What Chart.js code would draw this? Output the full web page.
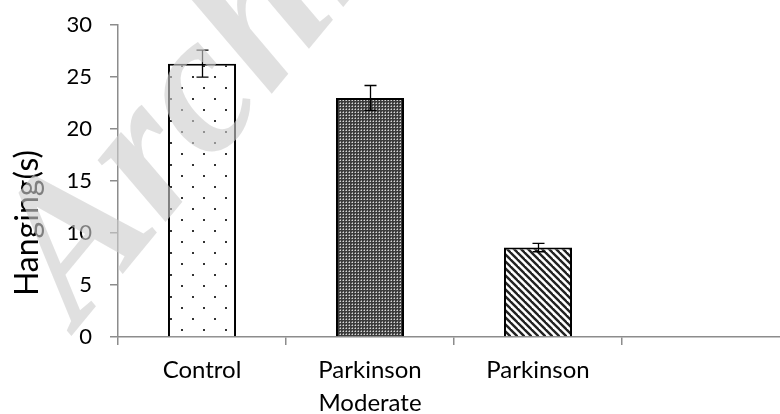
<!DOCTYPE html>
<html>
<head>
<meta charset="utf-8">
<script src="https://cdn.jsdelivr.net/npm/chart.js@4.4.0/dist/chart.umd.min.js"></script>
<style>
    html, body { margin: 0; padding: 0; background: #fff; overflow: hidden; }
    #wrap { width: 800px; height: 420px; margin-top: -6px; }
</style>
</head>
<body>
<div id="wrap"><canvas id="hangChart" width="800" height="420"></canvas></div>
<script>
// chart data
const categories = ['Control', ['Parkinson', 'Moderate'], 'Parkinson', ''];
const hangingValues = [26.3, 23.0, 8.6, null];
const hangingErrors = [1.3, 1.2, 0.4, null];
const yTicks = [0, 5, 10, 15, 20, 25, 30];
const yTitle = 'Hanging(s)';
const watermark = 'Archive';

const FONT = 'Lato, "Open Sans", sans-serif';

function makePattern(w, h, draw) {
    const c = document.createElement('canvas');
    c.width = w;
    c.height = h;
    const g = c.getContext('2d');
    draw(g, w, h);
    return c;
}

// dotted fill (Control)
const dotTile = makePattern(22, 22, (g, w, h) => {
    g.fillStyle = '#fff';
    g.fillRect(0, 0, w, h);
    g.fillStyle = '#333';
    g.fillRect(5, 5, 2, 2);
    g.fillRect(16, 16, 2, 2);
});

// fine dark checker (Parkinson Moderate)
const checkTile = makePattern(3, 3, (g, w, h) => {
    g.fillStyle = '#3c3c3c';
    g.fillRect(0, 0, w, h);
    g.fillStyle = '#d8d8d8';
    g.fillRect(1, 1, 1, 1);
    g.fillStyle = '#8a8a8a';
    g.fillRect(0, 1, 1, 1);
    g.fillRect(1, 0, 1, 1);
});

// diagonal stripes (Parkinson)
const stripeTile = makePattern(7, 7, (g, w, h) => {
    g.fillStyle = '#fff';
    g.fillRect(0, 0, w, h);
    g.strokeStyle = '#222';
    g.lineWidth = 2.4;
    for (let x = -7; x <= 7; x += 7) {
        g.beginPath();
        g.moveTo(x - 1, -1);
        g.lineTo(x + 8, 8);
        g.stroke();
    }
});

const ctx = document.getElementById('hangChart').getContext('2d');
const fills = [
    ctx.createPattern(dotTile, 'repeat'),
    ctx.createPattern(checkTile, 'repeat'),
    ctx.createPattern(stripeTile, 'repeat'),
    '#fff'
];

const errorBarPlugin = {
    id: 'errorBars',
    afterDatasetsDraw(chart) {
        const c = chart.ctx;
        const meta = chart.getDatasetMeta(0);
        const y = chart.scales.y;
        c.save();
        c.strokeStyle = '#000';
        c.lineWidth = 1.3;
        meta.data.forEach((bar, i) => {
            const v = hangingValues[i];
            const e = hangingErrors[i];
            if (v == null || e == null) return;
            const top = y.getPixelForValue(v + e);
            const bottom = y.getPixelForValue(v - e);
            const x = Math.round(bar.x) + 0.5;
            c.beginPath();
            c.moveTo(x, top);
            c.lineTo(x, bottom);
            c.moveTo(x - 6, top);
            c.lineTo(x + 6, top);
            c.moveTo(x - 6, bottom);
            c.lineTo(x + 6, bottom);
            c.stroke();
        });
        c.restore();
    }
};

const yTitlePlugin = {
    id: 'yTitle',
    afterDraw(chart) {
        const c = chart.ctx;
        c.save();
        c.translate(38, 229);
        c.rotate(-Math.PI / 2);
        c.font = '32px ' + FONT;
        c.fillStyle = '#000';
        c.textAlign = 'center';
        c.textBaseline = 'alphabetic';
        c.fillText(yTitle, 0, 0);
        c.restore();
    }
};

// semi-transparent stamp laid over the whole figure
const watermarkPlugin = {
    id: 'watermark',
    afterDraw(chart) {
        const c = chart.ctx;
        c.save();
        c.translate(78, 334);
        c.rotate(-0.88);
        c.font = 'italic bold 200px "Liberation Serif", "DejaVu Serif", serif';
        c.fillStyle = 'rgba(205, 205, 205, 0.62)';
        c.fillText(watermark, 0, 0);
        c.restore();
    }
};

new Chart(ctx, {
    type: 'bar',
    data: {
        labels: categories,
        datasets: [{
            data: hangingValues,
            backgroundColor: fills,
            borderColor: '#000',
            borderWidth: 2,
            borderSkipped: 'bottom',
            barPercentage: 0.405,
            categoryPercentage: 1.0
        }]
    },
    options: {
        responsive: false,
        animation: false,
        devicePixelRatio: 1,
        layout: { padding: { top: 19, right: 10, bottom: 0, left: 0 } },
        plugins: {
            legend: { display: false },
            tooltip: { enabled: false }
        },
        scales: {
            y: {
                min: 0,
                max: 30,
                afterFit: (s) => { s.width = 118; },
                afterBuildTicks: (s) => { s.ticks = yTicks.map(v => ({ value: v })); },
                border: { color: '#8c8c8c', width: 1.5 },
                grid: { drawOnChartArea: false, drawTicks: true, tickLength: 8, color: '#8c8c8c', lineWidth: 1.5 },
                ticks: { color: '#000', padding: 18, font: { family: FONT, size: 22 } }
            },
            x: {
                afterFit: (s) => { s.height = 77; },
                border: { color: '#8c8c8c', width: 1.5 },
                grid: { drawOnChartArea: false, drawTicks: true, tickLength: 8, color: '#8c8c8c', lineWidth: 1.5 },
                ticks: { color: '#000', padding: 8, maxRotation: 0, font: { family: FONT, size: 24, lineHeight: 1.4 } }
            }
        }
    },
    plugins: [errorBarPlugin, yTitlePlugin, watermarkPlugin]
});
</script>
</body>
</html>
